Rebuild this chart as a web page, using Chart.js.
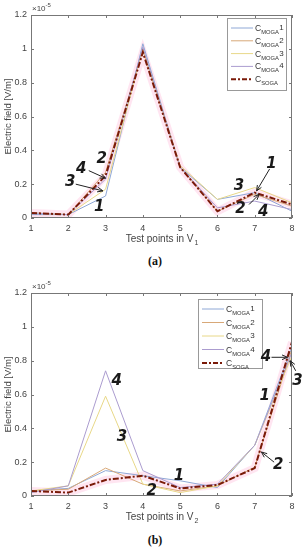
<!DOCTYPE html>
<html>
<head>
<meta charset="utf-8">
<script src="https://cdn.jsdelivr.net/npm/chart.js@4/dist/chart.umd.min.js"></script>
<style>
  body { margin: 0; background: #fff; width: 307px; height: 550px; position: relative; overflow: hidden; }
  .box { position: absolute; left: 0; width: 307px; height: 248px; }
  .cap { position: absolute; left: 0; width: 310px; text-align: center; font: bold 12px "Liberation Serif", serif; color: #111; }
</style>
</head>
<body>
<div class="box" style="top:0"><canvas id="chartA"></canvas></div>
<div class="cap" style="top:254px">(a)</div>
<div class="box" style="top:278px"><canvas id="chartB"></canvas></div>
<div class="cap" style="top:533px">(b)</div>
<script>
// test points 1..8, values in units of 1e-5 V/m
const testPoints = [1, 2, 3, 4, 5, 6, 7, 8]
const yTicks = [0, 0.2, 0.4, 0.6, 0.8, 1, 1.2]
const seriesNames = ['1', '2', '3', '4', 'SOGA']
const seriesColors = ['#8fa8d6', '#d8a878', '#e8d888', '#ab9ccf', '#7a1a08']

// panel (a)
const moga1A = [0.02, 0.02, 0.13, 1.03, 0.30, 0.11, 0.15, 0.04]
const moga2A = [0.03, 0.02, 0.27, 0.99, 0.30, 0.04, 0.14, 0.07]
const moga3A = [0.03, 0.02, 0.17, 1.00, 0.31, 0.11, 0.18, 0.09]
const moga4A = [0.03, 0.02, 0.23, 1.01, 0.30, 0.06, 0.10, 0.05]
const sogaA = [0.03, 0.02, 0.25, 0.98, 0.30, 0.04, 0.15, 0.08]

// panel (b)
const moga1B = [0.03, 0.045, 0.15, 0.12, 0.09, 0.05, 0.30, 0.88]
const moga2B = [0.03, 0.04, 0.165, 0.07, 0.03, 0.06, 0.17, 0.87]
const moga3B = [0.03, 0.06, 0.59, 0.07, 0.02, 0.06, 0.30, 0.83]
const moga4B = [0.02, 0.06, 0.74, 0.15, 0.05, 0.07, 0.30, 0.85]
const sogaB = [0.03, 0.02, 0.095, 0.12, 0.045, 0.065, 0.165, 0.91]

// curve number callouts: text, label point, optional arrow from/to (data coords)
const notesA = [
  { t: '2', x: 2.9, y: 0.35 },
  { t: '4', x: 2.35, y: 0.29, ax: [2.55, 0.28], at: [3.0, 0.235] },
  { t: '3', x: 2.05, y: 0.215, ax: [2.2, 0.2], at: [2.93, 0.16] },
  { t: '1', x: 2.83, y: 0.065 },
  { t: '1', x: 7.45, y: 0.32, ax: [7.4, 0.29], at: [7.05, 0.16] },
  { t: '3', x: 6.58, y: 0.19 },
  { t: '2', x: 6.62, y: 0.05, ax: [6.85, 0.08], at: [7.12, 0.14] },
  { t: '4', x: 7.23, y: 0.035 }
]
const notesB = [
  { t: '4', x: 7.3, y: 0.82, ax: [7.45, 0.82], at: [7.88, 0.82] },
  { t: '3', x: 8.15, y: 0.68, ax: [8.1, 0.74], at: [7.95, 0.80] },
  { t: '4', x: 3.3, y: 0.68 },
  { t: '1', x: 7.27, y: 0.59 },
  { t: '3', x: 3.44, y: 0.35 },
  { t: '2', x: 7.63, y: 0.18, ax: [7.52, 0.2], at: [7.18, 0.26] },
  { t: '1', x: 4.97, y: 0.12 },
  { t: '2', x: 4.24, y: 0.03 }
]

function pts(arr) {
  return testPoints.map((x, i) => ({ x: x, y: arr[i] }))
}

function makeDatasets(series) {
  const sets = series.map((arr, i) => ({
    data: pts(arr),
    borderColor: seriesColors[i],
    borderWidth: i == 4 ? 2 : 1,
    borderDash: i == 4 ? [6, 2, 2, 2] : [],
    pointRadius: 0,
    tension: 0,
    order: i == 4 ? 0 : 5 - i
  }))
  // pink halo under the SOGA curve
  sets.push({
    data: pts(series[4]),
    borderColor: 'rgba(255,160,205,0.28)',
    borderWidth: 8,
    pointRadius: 0,
    order: 20
  })
  return sets
}

function drawArrow(ctx, x1, y1, x2, y2) {
  const ang = Math.atan2(y2 - y1, x2 - x1)
  ctx.beginPath()
  ctx.moveTo(x1, y1)
  ctx.lineTo(x2, y2)
  ctx.stroke()
  ctx.beginPath()
  ctx.moveTo(x2, y2)
  ctx.lineTo(x2 - 6 * Math.cos(ang - 0.4), y2 - 6 * Math.sin(ang - 0.4))
  ctx.moveTo(x2, y2)
  ctx.lineTo(x2 - 6 * Math.cos(ang + 0.4), y2 - 6 * Math.sin(ang + 0.4))
  ctx.stroke()
}

function makeDecorations(sub, notes, lg) {
  return {
    id: 'decorations',
    afterDraw(chart) {
      const ctx = chart.ctx
      const a = chart.chartArea
      const sx = chart.scales.x
      const sy = chart.scales.y
      ctx.save()

      // box and inward ticks
      ctx.strokeStyle = '#777'
      ctx.lineWidth = 1
      ctx.strokeRect(a.left + 0.5, a.top + 0.5, a.right - a.left - 1, a.bottom - a.top - 1)
      ctx.beginPath()
      yTicks.forEach(v => {
        const y = Math.round(sy.getPixelForValue(v)) + 0.5
        ctx.moveTo(a.left, y); ctx.lineTo(a.left + 3, y)
        ctx.moveTo(a.right, y); ctx.lineTo(a.right - 3, y)
      })
      testPoints.forEach(v => {
        const x = Math.round(sx.getPixelForValue(v)) + 0.5
        ctx.moveTo(x, a.bottom); ctx.lineTo(x, a.bottom - 3)
        ctx.moveTo(x, a.top); ctx.lineTo(x, a.top + 3)
      })
      ctx.stroke()

      // exponent label
      ctx.fillStyle = '#444'
      ctx.textBaseline = 'alphabetic'
      ctx.textAlign = 'left'
      ctx.font = '8px "Liberation Sans", Arial'
      ctx.fillText('\u00d710', a.left + 1, a.top - 4)
      const w10 = ctx.measureText('\u00d710').width
      ctx.font = '6px "Liberation Sans", Arial'
      ctx.fillText('-5', a.left + 1 + w10, a.top - 8)

      // y title
      ctx.save()
      ctx.translate(8, (a.top + a.bottom) / 2)
      ctx.rotate(-Math.PI / 2)
      ctx.textAlign = 'center'
      ctx.textBaseline = 'middle'
      ctx.font = '9.5px "Liberation Sans", Arial'
      ctx.fillText('Electric field [V/m]', 0, 0)
      ctx.restore()

      // x title with subscript
      ctx.textAlign = 'left'
      ctx.textBaseline = 'alphabetic'
      ctx.font = '10px "Liberation Sans", Arial'
      const main = 'Test points in V'
      const mw = ctx.measureText(main).width
      ctx.font = '7px "Liberation Sans", Arial'
      const sw = ctx.measureText(sub).width
      const x0 = (a.left + a.right) / 2 - (mw + sw) / 2
      ctx.font = '10px "Liberation Sans", Arial'
      ctx.fillText(main, x0, a.bottom + 24)
      ctx.font = '7px "Liberation Sans", Arial'
      ctx.fillText(sub, x0 + mw + 1, a.bottom + 27)

      // legend
      const bx = a.right - lg.right - lg.w
      const by = a.top + lg.top
      ctx.fillStyle = '#fff'
      ctx.fillRect(bx, by, lg.w, lg.h)
      ctx.strokeStyle = '#999'
      ctx.strokeRect(bx + 0.5, by + 0.5, lg.w, lg.h)
      seriesNames.forEach((name, i) => {
        const ry = by + 10 + i * lg.gap
        ctx.strokeStyle = seriesColors[i]
        ctx.lineWidth = i == 4 ? 2 : 1
        ctx.setLineDash(i == 4 ? [5, 2, 2, 2] : [])
        ctx.beginPath()
        ctx.moveTo(bx + 4, ry)
        ctx.lineTo(bx + 26, ry)
        ctx.stroke()
        ctx.setLineDash([])
        ctx.lineWidth = 1
        ctx.fillStyle = '#333'
        ctx.font = '8.5px "Liberation Sans", Arial'
        ctx.fillText('C', bx + 28, ry + 3)
        const cw = ctx.measureText('C').width
        ctx.font = '5.8px "Liberation Sans", Arial'
        const lab = i == 4 ? 'SOGA' : 'MOGA'
        ctx.fillText(lab, bx + 28 + cw, ry + 6)
        const subw = ctx.measureText(lab).width
        if (i < 4) {
          ctx.font = '8px "Liberation Sans", Arial'
          ctx.fillText(name, bx + 28 + cw + subw + 0.5, ry + 2)
        }
      })

      // curve callouts
      ctx.fillStyle = '#1a1a1a'
      ctx.strokeStyle = '#222'
      ctx.lineWidth = 1
      ctx.textAlign = 'center'
      ctx.textBaseline = 'middle'
      ctx.font = 'bold italic 15px "DejaVu Sans", sans-serif'
      notes.forEach(n => {
        ctx.fillText(n.t, sx.getPixelForValue(n.x), sy.getPixelForValue(n.y))
        if (n.at) {
          drawArrow(ctx, sx.getPixelForValue(n.ax[0]), sy.getPixelForValue(n.ax[1]),
            sx.getPixelForValue(n.at[0]), sy.getPixelForValue(n.at[1]))
        }
      })
      ctx.restore()
    }
  }
}

function chartOptions() {
  return {
    responsive: true,
    maintainAspectRatio: false,
    animation: false,
    layout: { padding: { top: 15, right: 15, left: 0, bottom: 0 } },
    plugins: {
      legend: { display: false },
      tooltip: { enabled: false }
    },
    scales: {
      x: {
        type: 'linear', min: 1, max: 8,
        grid: { display: false, drawTicks: false }, border: { display: false },
        ticks: { stepSize: 1, padding: 5, color: '#444', font: { family: 'Liberation Sans', size: 9 } },
        afterFit: s => { s.height = 30 }
      },
      y: {
        min: 0, max: 1.2,
        grid: { display: false, drawTicks: false }, border: { display: false },
        ticks: {
          stepSize: 0.2, padding: 4, color: '#444', font: { family: 'Liberation Sans', size: 9 },
          callback: v => String(Number(v.toFixed(1)))
        },
        afterFit: s => { s.width = 31 }
      }
    }
  }
}

new Chart(document.getElementById('chartA'), {
  type: 'line',
  data: { datasets: makeDatasets([moga1A, moga2A, moga3A, moga4A, sogaA]) },
  options: chartOptions(),
  plugins: [makeDecorations('1', notesA, { right: 6, top: 3, w: 59, h: 72, gap: 12.8 })]
})

new Chart(document.getElementById('chartB'), {
  type: 'line',
  data: { datasets: makeDatasets([moga1B, moga2B, moga3B, moga4B, sogaB]) },
  options: chartOptions(),
  plugins: [makeDecorations('2', notesB, { right: 30, top: 6, w: 64, h: 69, gap: 13.5 })]
})
</script>
</body>
</html>
